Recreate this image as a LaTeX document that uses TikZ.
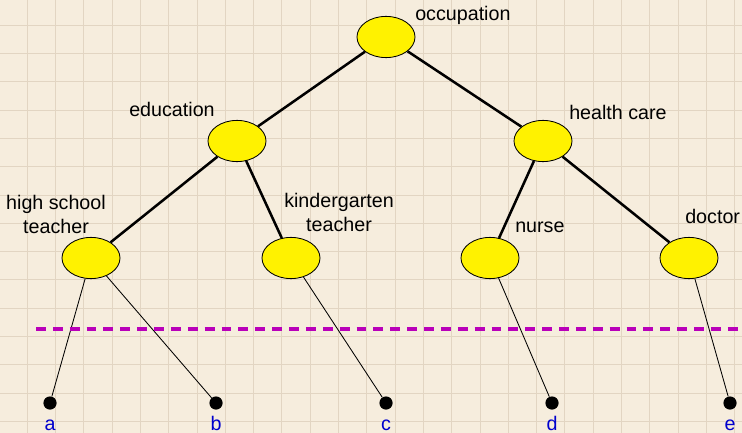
\documentclass[tikz,border=0pt]{standalone}
\usepackage{fontspec}
\setmainfont{Liberation Sans}
\usetikzlibrary{shapes.geometric}
\definecolor{paper}{RGB}{246,237,221}
\definecolor{gridline}{RGB}{226,213,194}
\definecolor{cutline}{RGB}{185,0,185}
\definecolor{leafblue}{RGB}{0,0,205}

\begin{document}
\begin{tikzpicture}[x=0.025cm, y=-0.025cm,
    concept/.style={ellipse, draw=black, line width=0.6pt, fill=yellow,
        inner sep=0pt, minimum width=1.45cm, minimum height=1.03cm},
    point/.style={circle, fill=black, inner sep=0pt, minimum size=0.33cm},
    tag/.style={inner sep=0pt, font=\fontsize{14}{17}\selectfont},
    leaftag/.style={inner sep=0pt, anchor=base, text=leafblue, font=\fontsize{14}{17}\selectfont},
    branch/.style={line width=1.8pt},
    twig/.style={line width=0.6pt}]
    \useasboundingbox (0,0) rectangle (742,433);
    % paper with grid
    \fill[paper] (0,0) rectangle (742,433);
    \foreach \k in {0,...,25} {
        \draw[gridline, line width=0.4pt] (27+28.3*\k, 0) -- (27+28.3*\k, 433);
    }
    \foreach \k in {0,...,14} {
        \draw[gridline, line width=0.4pt] (0, 25+28.3*\k) -- (742, 25+28.3*\k);
    }

    % concept hierarchy
    \node[concept] (occ) at (386,37) {};
    \node[concept] (edu) at (237,141) {};
    \node[concept] (hc)  at (543,141) {};
    \node[concept] (hst) at (91,258) {};
    \node[concept] (kgt) at (291,258) {};
    \node[concept] (nur) at (490,258) {};
    \node[concept] (doc) at (689,258) {};

    \node[tag, anchor=base west] (occtag) at (415,21) {occupation};
    \node[tag, anchor=base west] (edutag) at (129,116) {education};
    \node[tag, anchor=base west] (hctag)  at (569,119) {health care};
    \node[tag, anchor=south, align=center] (hsttag) at (56,234) {high school\\teacher};
    \node[tag, anchor=south, align=center] (kgttag) at (339,232) {kindergarten\\teacher};
    \node[tag, anchor=base west] (nurtag) at (515,232) {nurse};
    \node[tag, anchor=base west] (doctag) at (685,223) {doctor};

    % objects
    \node[point] (a) at (50,403) {};
    \node[point] (b) at (216,403) {};
    \node[point] (c) at (386,403) {};
    \node[point] (d) at (552,403) {};
    \node[point] (e) at (730,403) {};
    \node[leaftag] (atag) at (50,430) {a};
    \node[leaftag] (btag) at (216,430) {b};
    \node[leaftag] (ctag) at (386,430) {c};
    \node[leaftag] (dtag) at (552,430) {d};
    \node[leaftag] (etag) at (730,430) {e};

    \draw[branch] (occ) -- (edu);
    \draw[branch] (occ) -- (hc);
    \draw[branch] (edu) -- (hst);
    \draw[branch] (edu) -- (kgt);
    \draw[branch] (hc) -- (nur);
    \draw[branch] (hc) -- (doc);

    \draw[twig] (hst) -- (a);
    \draw[twig] (hst) -- (b);
    \draw[twig] (kgt) -- (c);
    \draw[twig] (nur) -- (d);
    \draw[twig] (doc) -- (e);

    % cut
    \coordinate (cutL) at (36,329);
    \coordinate (cutR) at (742,329);
    \draw[cutline, line width=2.2pt, dash pattern=on 7pt off 5pt] (cutL) -- (cutR);
\end{tikzpicture}
\end{document}
